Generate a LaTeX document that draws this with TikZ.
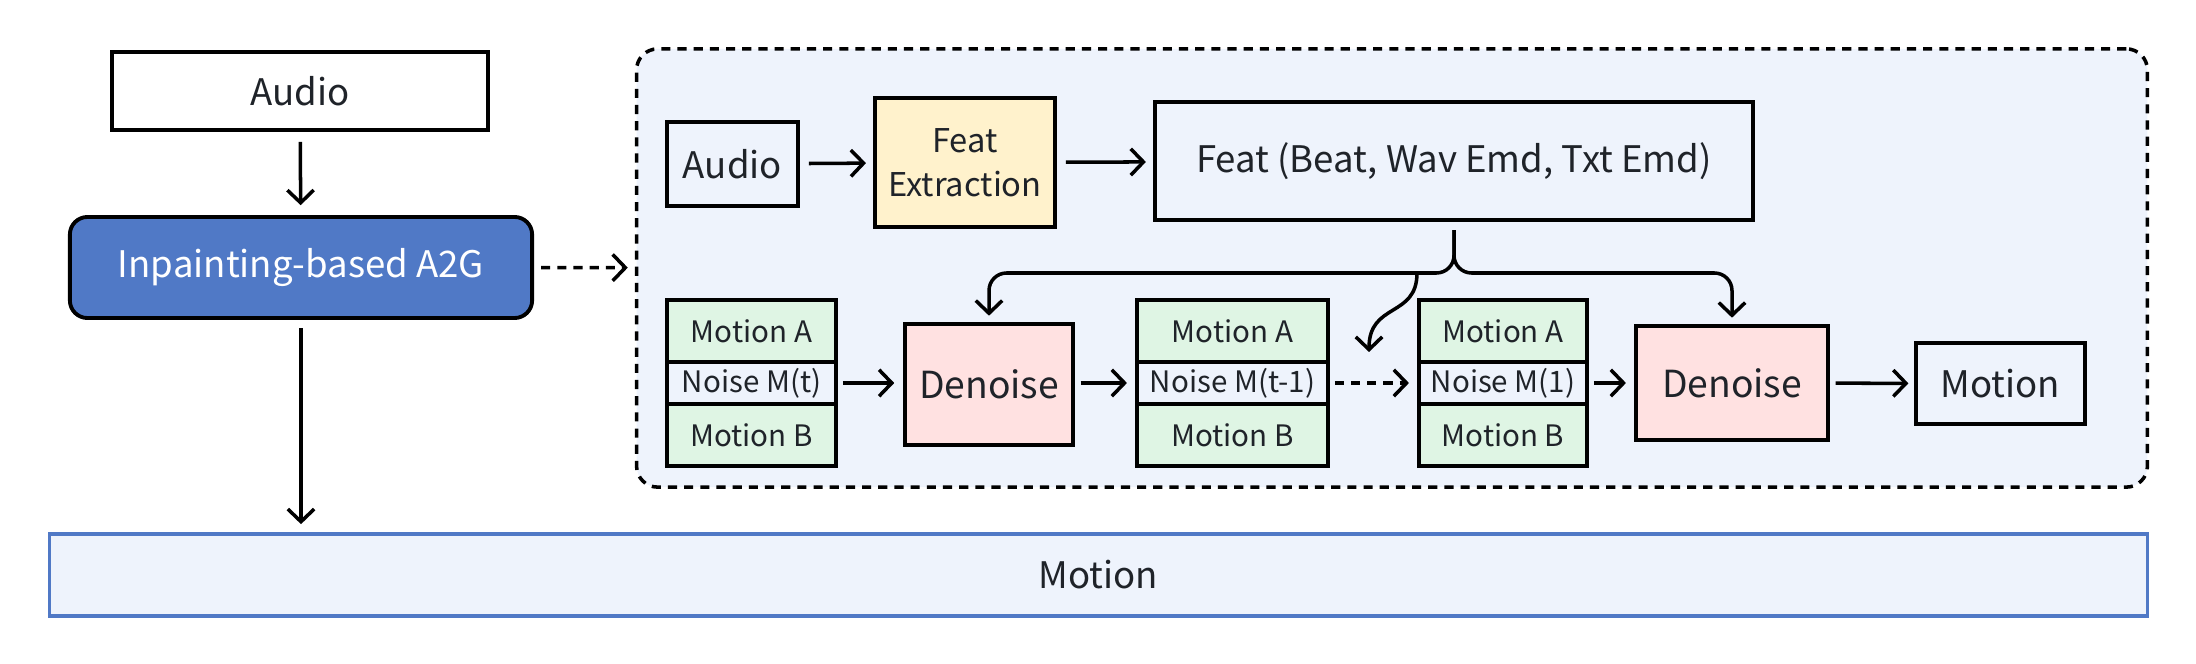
\documentclass[tikz,border=0pt]{standalone}
\usepackage{fontspec}
\setmainfont{Noto Sans CJK SC}
\usepackage{tikz}
\usetikzlibrary{arrows.meta,positioning}
\definecolor{bgblue}{HTML}{EEF3FC}
\definecolor{midblue}{HTML}{5079C6}
\definecolor{featyel}{HTML}{FFF2CC}
\definecolor{dnpink}{HTML}{FFE1E1}
\definecolor{mogreen}{HTML}{DFF5E4}
\definecolor{ink}{HTML}{1F2329}

\begin{document}
\begin{tikzpicture}[x=0.01cm, y=-0.01cm, every node/.style={font=\fontsize{10.4}{13}\selectfont, text=ink, inner sep=0pt}, box/.style={draw,line width=1.1pt}, cell/.style={box,fill=mogreen,minimum height=0.62cm,font=\fontsize{8.4}{10}\selectfont}, dn/.style={box,fill=dnpink,font=\fontsize{10.6}{13}\selectfont}, arr/.style={-{Straight Barb[length=3.6pt,width=7.5pt]},line width=1pt}, darr/.style={arr,dash pattern=on 2.6pt off 2pt}]
\useasboundingbox (0,0) rectangle (2196,664);
\node[box,fill=white,minimum width=3.75cm,minimum height=0.78cm] (audio) at (300,91) {Audio};
\node[box,rounded corners=5pt,fill=midblue,text=white,minimum width=4.62cm,minimum height=1.01cm] (a2g) at (301,267.5) {Inpainting-based A2G};
\node[draw=midblue,line width=1pt,fill=bgblue,minimum width=20.97cm,minimum height=0.82cm] (out) at (1098.5,575) {Motion};
\node[draw,line width=1pt,dash pattern=on 2.6pt off 2pt,rounded corners=6pt,fill=bgblue,minimum width=15.1cm,minimum height=4.38cm] (grp) at (1392,268) {};
\draw[arr,shorten <=2.8pt,shorten >=2.8pt] (audio) -- (a2g);
\draw[darr,shorten <=2pt,shorten >=2pt] (a2g) -- (grp);
\draw[arr,shorten <=2.3pt,shorten >=2.3pt] (a2g.south) -- (a2g.south |- out.north);
% top row
\node[box,minimum width=1.31cm,minimum height=0.84cm] (ain) at (732.5,164) {Audio};
\node[box,fill=featyel,minimum width=1.8cm,minimum height=1.29cm,align=center,font=\fontsize{9.3}{12.5}\selectfont] (fex) at (965,162.5) {Feat\\Extraction};
\node[box,minimum width=5.98cm,minimum height=1.18cm] (feat) at (1454,161) {Feat (Beat, Wav Emd, Txt Emd)};
\draw[arr,shorten <=2.5pt,shorten >=2pt] (ain) -- (fex);
\draw[arr,shorten <=2.5pt,shorten >=2pt] (fex) -- (feat);
% denoising chain
\foreach \i/\x/\w/\t in {1/751.5/1.69/M(t), 2/1232.5/1.91/M(t-1), 3/1503/1.68/M(1)} {
  \node[cell,minimum width=\w cm] (ma\i) at (\x,331) {Motion A};
  \node[cell,fill=bgblue,minimum width=\w cm,minimum height=0.42cm] (nz\i) at (\x,383) {Noise \t};
  \node[cell,minimum width=\w cm] (mb\i) at (\x,435) {Motion B};
}
\node[dn,minimum width=1.68cm,minimum height=1.21cm] (dn1) at (989,384.5) {Denoise};
\node[dn,minimum width=1.92cm,minimum height=1.14cm] (dn2) at (1732,383) {Denoise};
\node[box,minimum width=1.69cm,minimum height=0.81cm] (mot) at (2000.5,383.5) {Motion};
\draw[arr,shorten <=1.4pt,shorten >=2.5pt] (nz1) -- (dn1.west |- nz1);
\draw[arr,shorten <=1.6pt,shorten >=2.3pt] (dn1.east |- nz2) -- (nz2);
\draw[darr,shorten <=1.4pt,shorten >=2.3pt] (nz2) -- (nz3);
\draw[arr,shorten <=1.4pt,shorten >=2.3pt] (nz3) -- (dn2.west |- nz3);
\draw[arr,shorten <=1.6pt,shorten >=1.6pt] (dn2) -- (mot);
% brace from the features
\coordinate (bj) at (1456,273);
\coordinate (bc) at (1417,273);
\coordinate (bt) at (1369,352);
\draw[arr,rounded corners=5pt,shorten >=1.8pt] ([yshift=-2.3pt]feat.south) -- (feat.south |- bj) -| (dn1.north);
\draw[arr,rounded corners=5pt,shorten >=1.8pt] ([yshift=-2.3pt]feat.south) -- (feat.south |- bj) -| (dn2.north);
\draw[arr] (bc) .. controls (1417,318) and (1369,302) .. (bt);
\end{tikzpicture}
\end{document}
